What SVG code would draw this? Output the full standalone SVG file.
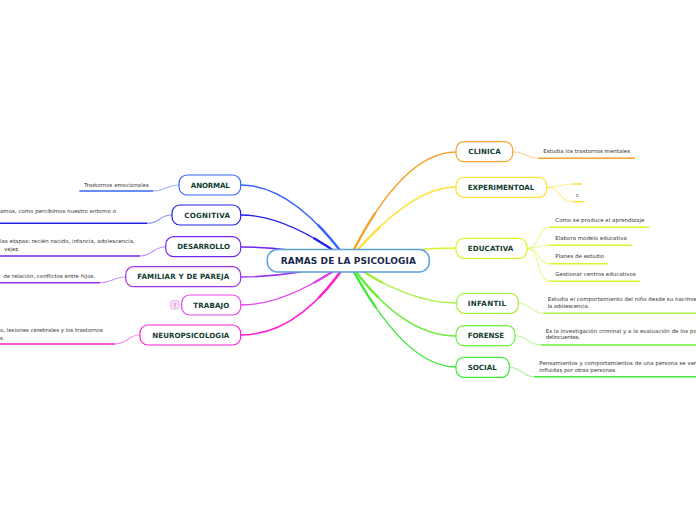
<svg xmlns="http://www.w3.org/2000/svg" width="696" height="520" viewBox="0 0 696 520">
<style>
.bg{fill:#ffffff}
.main{fill:none;stroke-width:1.4;stroke-linecap:round}
.mainT{fill:none;stroke-width:2.3;stroke-linecap:round;stroke-dasharray:34 200}
.sub{fill:none;stroke-width:1.1;opacity:0.5}
.ul{fill:none;stroke-width:1.5}
.node{fill:#ffffff;stroke-width:1.2}
.nt{font-family:"DejaVu Sans",Verdana,sans-serif;font-weight:bold;font-size:7.1px;fill:#123d2f;text-anchor:middle}
.ct{font-family:"DejaVu Sans",Verdana,sans-serif;font-weight:bold;font-size:9px;fill:#1b2a4e;text-anchor:middle}
.lt{font-family:"DejaVu Sans",Verdana,sans-serif;font-size:5.4px;fill:#333333}
</style>
<rect class="bg" x="0" y="0" width="696" height="520"/>
<g id="connectors">
  <path class="main" stroke="#3366ff" d="M348,261 Q293,185 241,185" pathLength="100"/>
  <path class="mainT" stroke="#3366ff" d="M348,261 Q293,185 241,185" pathLength="100"/>
  <path class="main" stroke="#2020e6" d="M348,261 Q287,215 241,215" pathLength="100"/>
  <path class="mainT" stroke="#2020e6" d="M348,261 Q287,215 241,215" pathLength="100"/>
  <path class="main" stroke="#7426ec" d="M348,261 Q292,247 241,247" pathLength="100"/>
  <path class="mainT" stroke="#7426ec" d="M348,261 Q292,247 241,247" pathLength="100"/>
  <path class="main" stroke="#9a2fe6" d="M348,261 Q292,277 241,277" pathLength="100"/>
  <path class="mainT" stroke="#9a2fe6" d="M348,261 Q292,277 241,277" pathLength="100"/>
  <path class="main" stroke="#e544ec" d="M348,261 Q287,305 241,305" pathLength="100"/>
  <path class="mainT" stroke="#e544ec" d="M348,261 Q287,305 241,305" pathLength="100"/>
  <path class="main" stroke="#ff1fd0" d="M348,261 Q299,335 241,335" pathLength="100"/>
  <path class="mainT" stroke="#ff1fd0" d="M348,261 Q299,335 241,335" pathLength="100"/>
  <path class="main" stroke="#f7a12a" d="M348,261 Q402,152 456,152" pathLength="100"/>
  <path class="mainT" stroke="#f7a12a" d="M348,261 Q402,152 456,152" pathLength="100"/>
  <path class="main" stroke="#ffe033" d="M348,261 Q410,187 456,187" pathLength="100"/>
  <path class="mainT" stroke="#ffe033" d="M348,261 Q410,187 456,187" pathLength="100"/>
  <path class="main" stroke="#d8f52c" d="M348,261 Q405,248 456,248" pathLength="100"/>
  <path class="mainT" stroke="#d8f52c" d="M348,261 Q405,248 456,248" pathLength="100"/>
  <path class="main" stroke="#a6ef3e" d="M348,261 Q406,303 457,303" pathLength="100"/>
  <path class="mainT" stroke="#a6ef3e" d="M348,261 Q406,303 457,303" pathLength="100"/>
  <path class="main" stroke="#6aee3a" d="M348,261 Q401,336 456,336" pathLength="100"/>
  <path class="mainT" stroke="#6aee3a" d="M348,261 Q401,336 456,336" pathLength="100"/>
  <path class="main" stroke="#42e83a" d="M348,261 Q404,367 456,367" pathLength="100"/>
  <path class="mainT" stroke="#42e83a" d="M348,261 Q404,367 456,367" pathLength="100"/>

  <path class="sub" stroke="#3366ff" d="M179,185 C166,185 166,191 153,191"/>
  <path class="ul" stroke="#3366ff" d="M153,191 H79.3"/>
  <path class="sub" stroke="#2020e6" d="M172,215 C159,215 160,223.3 147.3,223.3"/>
  <path class="ul" stroke="#2020e6" d="M147.3,223.3 H0"/>
  <path class="sub" stroke="#7426ec" d="M165.7,246.7 C153,246.7 153,256 140,256"/>
  <path class="ul" stroke="#7426ec" d="M140,256 H0"/>
  <path class="sub" stroke="#9a2fe6" d="M125.7,276.7 C113,276.7 113,282.7 100,282.7"/>
  <path class="ul" stroke="#9a2fe6" d="M100,282.7 H0"/>
  <path class="sub" stroke="#ff1fd0" d="M140,335 C127,335 128,344 115,344"/>
  <path class="ul" stroke="#ff1fd0" d="M115,344 H0"/>

  <path class="sub" stroke="#f7a12a" d="M512.7,151.7 C525.5,151.7 525.5,158.3 538.3,158.3"/>
  <path class="ul" stroke="#f7a12a" d="M538.3,158.3 H635"/>
  <path class="sub" stroke="#ffe033" d="M546.7,187.3 C560,187.3 560,184 572.7,184"/>
  <path class="ul" stroke="#ffe033" stroke-width="1.8" d="M572.7,184 H581.7"/>
  <path class="sub" stroke="#ffe033" d="M546.7,187.3 C560,187.3 560,201.7 572.7,201.7"/>
  <path class="ul" stroke="#ffe033" stroke-width="1.8" d="M572.7,201.7 H584"/>
  <path class="sub" stroke="#d8f52c" d="M527,248.3 C540,248.3 537,227.3 550,227.3"/>
  <path class="ul" stroke="#d8f52c" d="M550,227.3 H649"/>
  <path class="sub" stroke="#d8f52c" d="M527,248.3 C540,248.3 537,245.3 550,245.3"/>
  <path class="ul" stroke="#d8f52c" d="M550,245.3 H631.7"/>
  <path class="sub" stroke="#d8f52c" d="M527,248.3 C540,248.3 537,263.7 550,263.7"/>
  <path class="ul" stroke="#d8f52c" d="M550,263.7 H608.3"/>
  <path class="sub" stroke="#d8f52c" d="M527,248.3 C540,248.3 537,281.3 550,281.3"/>
  <path class="ul" stroke="#d8f52c" d="M550,281.3 H640"/>
  <path class="sub" stroke="#a6ef3e" d="M518.3,303.3 C531,303.3 531,313.3 543.3,313.3"/>
  <path class="ul" stroke="#a6ef3e" d="M543.3,313.3 H696"/>
  <path class="sub" stroke="#6aee3a" d="M515,335.7 C528,335.7 528,345 540.7,345"/>
  <path class="ul" stroke="#6aee3a" d="M540.7,345 H696"/>
  <path class="sub" stroke="#42e83a" d="M509.3,367.3 C522,367.3 522,376.7 534,376.7"/>
  <path class="ul" stroke="#42e83a" d="M534,376.7 H696"/>
</g>

<g id="center">
  <rect x="267.3" y="249.5" width="162" height="22.5" rx="10" fill="#ffffff" stroke="#5b9fd9" stroke-width="1.5"/>
  <text class="ct" x="348.3" y="264.3" textLength="135.3">RAMAS DE LA PSICOLOGIA</text>
</g>

<g id="anormal">
  <rect class="node" stroke="#3366ff" x="179" y="175" width="61.7" height="20" rx="8"/>
  <text class="nt" x="210.3" y="187.6" textLength="39">ANORMAL</text>
  <text class="lt" x="84" y="186.7" textLength="64.7">Trastornos emocionales</text>
</g>
<g id="cognitiva">
  <rect class="node" stroke="#2020e6" x="172" y="205" width="68.7" height="20" rx="8"/>
  <text class="nt" x="207.1" y="217.6" textLength="45.7">COGNITIVA</text>
  <text class="lt" x="0" y="212.7" textLength="116">amos, como percibimos nuestro entorno o</text>
</g>
<g id="desarrollo">
  <rect class="node" stroke="#7426ec" x="165.7" y="236.7" width="75" height="20" rx="8"/>
  <text class="nt" x="203.6" y="249.3" textLength="52.7">DESARROLLO</text>
  <text class="lt" x="0" y="243.3" textLength="134.7">las etapas: recién nacido, infancia, adolescencia,</text>
  <text class="lt" x="4" y="250.7">vejez.</text>
</g>
<g id="familiar">
  <rect class="node" stroke="#9a2fe6" x="125.7" y="266.7" width="115" height="20" rx="8"/>
  <text class="nt" x="183.3" y="279.3" textLength="92">FAMILIAR Y DE PAREJA</text>
  <text class="lt" x="3.3" y="278.3" textLength="91.7">de relación, conflictos entre hijos.</text>
</g>
<g id="trabajo">
  <rect class="node" stroke="#e544ec" x="181.7" y="295" width="59" height="20" rx="8"/>
  <text class="nt" x="211.3" y="307.6" textLength="36">TRABAJO</text>
  <rect x="170.7" y="300.7" width="8.3" height="8.3" rx="2" fill="#fbe1fb" stroke="#e89ae9" stroke-width="0.8"/>
  <text class="lt" x="174.85" y="307" font-size="5px" text-anchor="middle" fill="#777777">!</text>
</g>
<g id="neuropsicologia">
  <rect class="node" stroke="#ff1fd0" x="140" y="325" width="100.7" height="20" rx="8"/>
  <text class="nt" x="190.8" y="337.6" textLength="77">NEUROPSICOLOGIA</text>
  <text class="lt" x="0" y="332.3" textLength="102.7">o, lesiones cerebrales y los trastornos</text>
  <text class="lt" x="0" y="340">s.</text>
</g>

<g id="clinica">
  <rect class="node" stroke="#f7a12a" x="456" y="141.7" width="56.7" height="20" rx="8"/>
  <text class="nt" x="484.5" y="154.3" textLength="32.4">CLINICA</text>
  <text class="lt" x="543.3" y="153.3" textLength="86.7">Estudia los trastornos mentales</text>
</g>
<g id="experimentoal">
  <rect class="node" stroke="#ffe033" x="456" y="177.3" width="90.7" height="20" rx="8"/>
  <text class="nt" x="501" y="189.9" textLength="66.7">EXPERIMENTOAL</text>
  <text class="lt" x="576" y="196.7">c</text>
</g>
<g id="educativa">
  <rect class="node" stroke="#d8f52c" x="456" y="238.3" width="71" height="20" rx="8"/>
  <text class="nt" x="490.5" y="250.9" textLength="45.7">EDUCATIVA</text>
  <text class="lt" x="555.3" y="222.3" textLength="89">Como se produce el aprendizaje</text>
  <text class="lt" x="555.3" y="240.3" textLength="71.4">Elabora modelo educativa</text>
  <text class="lt" x="555.3" y="258.3" textLength="48.7">Planes de estudio</text>
  <text class="lt" x="555.3" y="276.3" textLength="80.4">Gestionar centros educativos</text>
</g>
<g id="infantil">
  <rect class="node" stroke="#a6ef3e" x="456.7" y="293.3" width="61.6" height="20" rx="8"/>
  <text class="nt" x="486.9" y="305.9" textLength="38.3">INFANTIL</text>
  <text class="lt" x="547.7" y="301.3" textLength="149">Estudia el comportamiento del niño desde su nacimie</text>
  <text class="lt" x="547.7" y="308.3" textLength="41.6">la adolescencia.</text>
</g>
<g id="forense">
  <rect class="node" stroke="#6aee3a" x="456" y="325.7" width="59" height="20" rx="8"/>
  <text class="nt" x="485.9" y="338.3" textLength="36.3">FORENSE</text>
  <text class="lt" x="545.7" y="332.7" textLength="151">Es la investigación criminal y a la evaluación de los po</text>
  <text class="lt" x="545.7" y="339.3" textLength="34.3">delincuentes.</text>
</g>
<g id="social">
  <rect class="node" stroke="#42e83a" x="456" y="357.3" width="53.3" height="20" rx="8"/>
  <text class="nt" x="482.2" y="369.9" textLength="29">SOCIAL</text>
  <text class="lt" x="539.3" y="365" textLength="157">Pensamientos y comportamientos de una persona se ver</text>
  <text class="lt" x="539.3" y="372.3" textLength="77.4">influidas por otras personas.</text>
</g>
</svg>
